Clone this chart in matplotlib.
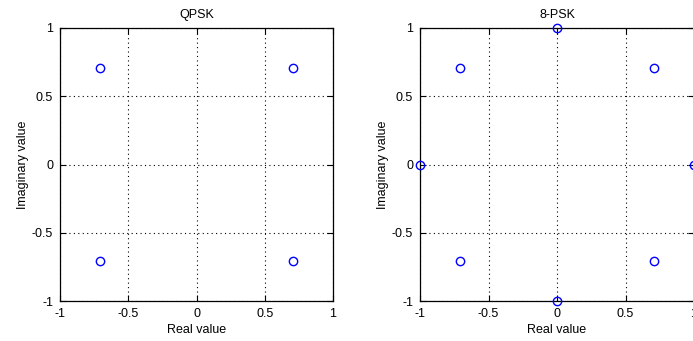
import numpy as np
import matplotlib
matplotlib.use("Agg")
import matplotlib.pyplot as plt

plt.rcParams["font.family"] = ["Liberation Sans", "DejaVu Sans"]
plt.rcParams["font.size"] = 9

# ── Constellation data ─────────────────────────────────────────────────────
qpsk_re = [0.7071, -0.7071, -0.7071, 0.7071]
qpsk_im = [0.7071, 0.7071, -0.7071, -0.7071]

psk8_re = [1.0, 0.7071, 0.0, -0.7071, -1.0, -0.7071, 0.0, 0.7071]
psk8_im = [0.0, 0.7071, 1.0, 0.7071, 0.0, -0.7071, -1.0, -0.7071]

ticks = [-1, -0.5, 0, 0.5, 1]
tick_labels = ["-1", "-0.5", "0", "0.5", "1"]

W, H = 693, 341
fig = plt.figure(figsize=(W / 100, H / 100), dpi=100)


def panel(rect, re, im, title):
    ax = fig.add_axes(rect)
    ax.plot(re, im, "o", color="#0000ff", markerfacecolor="none",
            markersize=6, markeredgewidth=1.0, clip_on=False, zorder=5)
    ax.set_xlim(-1, 1)
    ax.set_ylim(-1, 1)
    ax.set_xticks(ticks)
    ax.set_yticks(ticks)
    ax.set_xticklabels(tick_labels)
    ax.set_yticklabels(tick_labels)
    ax.grid(True, color="black", linestyle=(0, (1, 3)), linewidth=0.8)
    ax.tick_params(direction="in", length=4, width=0.8, pad=5,
                   top=True, right=True)
    for s in ax.spines.values():
        s.set_linewidth(0.9)
    ax.set_title(title, fontsize=9, pad=7)
    ax.set_xlabel("Real value", labelpad=3)
    ax.set_ylabel("Imaginary value", labelpad=2)
    return ax


bottom = 40 / H
height = 273 / H
panel([60 / W, bottom, 273 / W, height], qpsk_re, qpsk_im, "QPSK")
panel([420 / W, bottom, 274 / W, height], psk8_re, psk8_im, "8-PSK")

fig.savefig("out.png", dpi=100)
